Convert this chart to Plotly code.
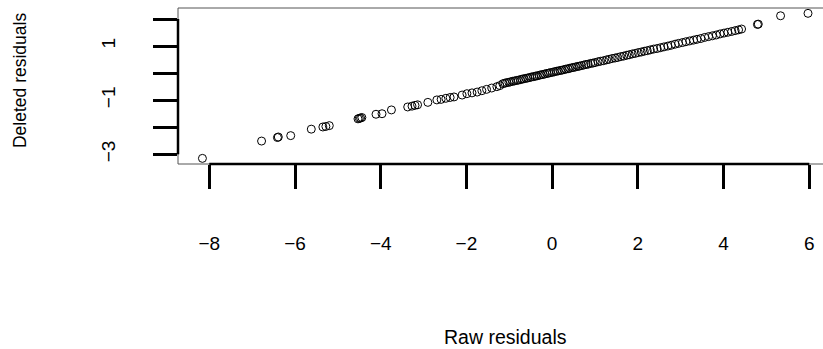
import plotly.graph_objects as go

# Raw residuals (x) and deleted residuals (y)
raw_resid = [
    -8.16, -6.78, -6.41, -6.39, -6.10, -5.62, -5.35, -5.28, -5.20,
    -4.53, -4.50, -4.47, -4.44, -4.11, -3.97, -3.75, -3.37, -3.27, -3.20, -3.14,
    -2.90, -2.69, -2.59, -2.48, -2.38, -2.29, -2.10, -1.99, -1.87, -1.75,
    -1.64, -1.53, -1.41, -1.29, -1.22,
    -1.15, -1.10, -1.06, -1.01, -0.97, -0.92, -0.88, -0.83, -0.79, -0.74,
    -0.70, -0.66, -0.61, -0.57, -0.52, -0.48, -0.43, -0.39, -0.35, -0.30,
    -0.26, -0.21, -0.17, -0.12, -0.08, -0.04, 0.01, 0.05, 0.10, 0.14,
    0.19, 0.23, 0.28, 0.32, 0.37, 0.41, 0.46, 0.50, 0.55, 0.60,
    0.64, 0.69, 0.74, 0.79, 0.84, 0.90, 0.95, 1.00,
    1.07, 1.13, 1.20, 1.27, 1.33, 1.40, 1.47, 1.53, 1.60, 1.67,
    1.74, 1.80, 1.87, 1.94, 2.01, 2.08, 2.15, 2.22, 2.29, 2.37, 2.45,
    2.53, 2.61, 2.70, 2.78, 2.87, 2.95, 3.04, 3.12, 3.21, 3.30,
    3.38, 3.47, 3.56, 3.65, 3.74, 3.83, 3.92, 4.01, 4.10, 4.19,
    4.27, 4.35, 4.42,
    4.79, 4.81, 5.33, 5.97,
]
deleted_resid = [
    -3.15, -2.51, -2.38, -2.36, -2.31, -2.07, -1.99, -1.97, -1.94,
    -1.69, -1.67, -1.66, -1.64, -1.52, -1.50, -1.36, -1.25, -1.22, -1.19, -1.17,
    -1.08, -0.99, -0.97, -0.93, -0.90, -0.88, -0.81, -0.76, -0.73, -0.70,
    -0.65, -0.60, -0.55, -0.50, -0.46,
    -0.39, -0.37, -0.35, -0.34, -0.32, -0.30, -0.29, -0.27, -0.26, -0.24,
    -0.22, -0.21, -0.19, -0.18, -0.16, -0.14, -0.13, -0.11, -0.10, -0.08,
    -0.06, -0.05, -0.03, -0.01, 0.00, 0.02, 0.03, 0.05, 0.07, 0.08,
    0.10, 0.11, 0.13, 0.15, 0.16, 0.18, 0.20, 0.21, 0.23, 0.25,
    0.26, 0.28, 0.30, 0.32, 0.33, 0.36, 0.37, 0.39,
    0.42, 0.44, 0.46, 0.49, 0.51, 0.54, 0.56, 0.58, 0.61, 0.63,
    0.66, 0.68, 0.71, 0.73, 0.76, 0.78, 0.81, 0.83, 0.86, 0.89, 0.91,
    0.94, 0.97, 1.00, 1.03, 1.07, 1.10, 1.13, 1.16, 1.19, 1.22,
    1.25, 1.28, 1.32, 1.35, 1.38, 1.41, 1.45, 1.48, 1.51, 1.54,
    1.57, 1.60, 1.63,
    1.80, 1.81, 2.12, 2.21,
]

x_ticks = [-8, -6, -4, -2, 0, 2, 4, 6]
x_tick_labels = ["\u22128", "\u22126", "\u22124", "\u22122", "0", "2", "4", "6"]
y_ticks = [-3, -2, -1, 0, 1, 2]
y_tick_labels = ["\u22123", "", "\u22121", "", "1", ""]

x_title = "Raw residuals"
y_title = "Deleted residuals"

FONT = "Liberation Sans, Arial, Helvetica, sans-serif"

fig = go.Figure()
fig.add_trace(go.Scatter(
    x=raw_resid, y=deleted_resid, mode="markers",
    marker=dict(symbol="circle-open", size=8, color="black",
                line=dict(width=1, color="black")),
    hoverinfo="x+y", showlegend=False,
))

axis_lw = 2.5
shapes = [
    # plot box (left, top, bottom) - right side runs off the canvas
    dict(type="line", xref="paper", yref="paper", x0=0, x1=0, y0=0, y1=1,
         line=dict(color="#555555", width=1)),
    dict(type="line", xref="paper", yref="paper", x0=0, x1=1.05, y0=1, y1=1,
         line=dict(color="#555555", width=1)),
    dict(type="line", xref="paper", yref="paper", x0=0, x1=1.05, y0=0, y1=0,
         line=dict(color="#555555", width=1)),
    # thick axis lines spanning first to last tick
    dict(type="line", xref="x", yref="paper", x0=x_ticks[0], x1=x_ticks[-1], y0=0, y1=0,
         line=dict(color="black", width=axis_lw)),
    dict(type="line", xref="paper", yref="y", x0=0, x1=0, y0=y_ticks[0], y1=y_ticks[-1],
         line=dict(color="black", width=axis_lw)),
]

fig.update_layout(
    width=823, height=349,
    margin=dict(l=178, r=0, t=8, b=185, pad=0),
    paper_bgcolor="white", plot_bgcolor="white",
    font=dict(family=FONT, size=18, color="black"),
    shapes=shapes,
    xaxis=dict(
        range=[-8.73, 6.32], showgrid=False, zeroline=False, showline=False,
        tickmode="array", tickvals=x_ticks, ticktext=x_tick_labels,
        ticks="outside", ticklen=24, tickwidth=axis_lw, tickcolor="black",
        ticklabelstandoff=38, tickfont=dict(size=19),
    ),
    yaxis=dict(
        range=[-3.358, 2.407], showgrid=False, zeroline=False, showline=False,
        tickmode="array", tickvals=y_ticks, ticktext=y_tick_labels,
        ticks="outside", ticklen=24, tickwidth=axis_lw, tickcolor="black",
        tickangle=-90, ticklabelstandoff=30, tickfont=dict(size=19),
    ),
    annotations=[
        dict(text=x_title, xref="paper", yref="paper", x=0.507, y=-1.109,
             xanchor="center", yanchor="middle", showarrow=False,
             font=dict(size=19.5)),
        dict(text=y_title, xref="paper", yref="paper", x=-0.245, y=0.538,
             xanchor="center", yanchor="middle", textangle=-90, showarrow=False,
             font=dict(size=17.5)),
    ],
)

fig.write_html("out.html")
